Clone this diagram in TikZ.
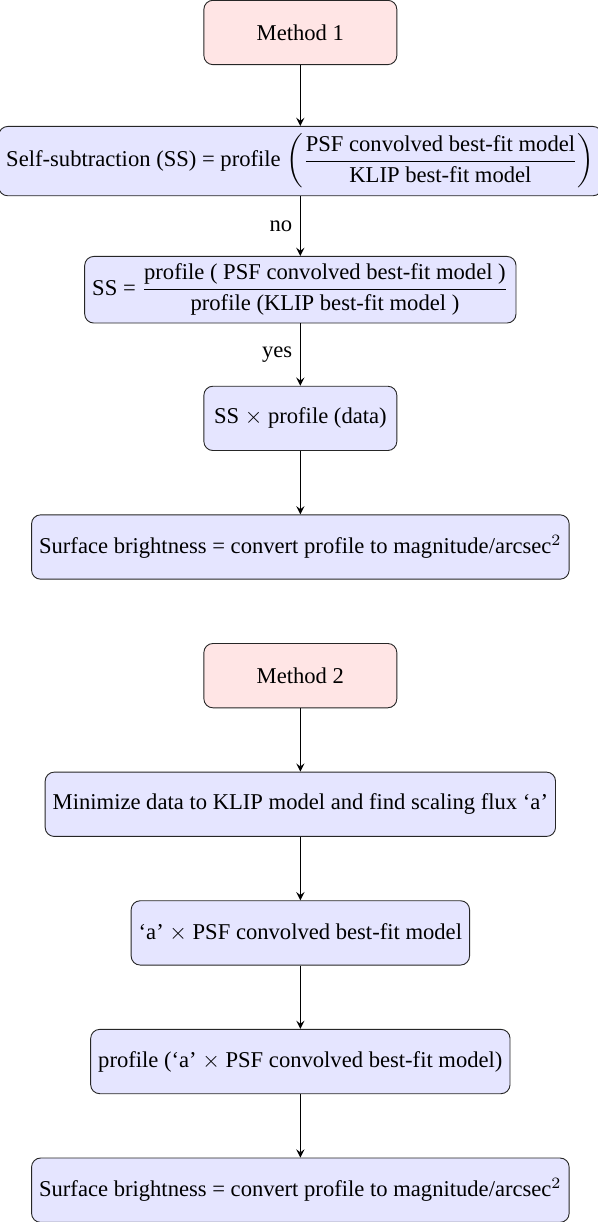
\documentclass[tikz,border=0pt]{standalone}
\usepackage{amsmath}
\usepackage{fontspec}
\setmainfont{Liberation Serif}
\usetikzlibrary{arrows}
\begin{document}
\begin{tikzpicture}[
  startbox/.style={draw=black!85, rounded corners, fill=red!10, minimum width=3cm, minimum height=1cm, align=center},
  procbox/.style={draw=black!85, rounded corners, fill=blue!10, minimum width=3cm, minimum height=1cm, align=center},
  flow/.style={-stealth, semithick},
  lbl/.style={left, midway}]
\useasboundingbox (-4.67,0.505) rectangle (4.615,-18.495);
\node[startbox] (m1) at (0,0) {Method 1};
\node[procbox] (ss) at (0,-2) {Self-subtraction (SS) = profile $\displaystyle\left(\frac{\text{PSF convolved best-fit model}}{\text{KLIP best-fit model}}\right)$};
\node[procbox] (ratio) at (0,-4) {SS = $\displaystyle\frac{\text{profile ( PSF convolved best-fit model )}}{\text{profile (KLIP best-fit model )}}$};
\node[procbox] (ssp) at (0,-6) {SS $\times$ profile (data)};
\node[procbox] (sb1) at (0,-8) {Surface brightness = convert profile to magnitude/arcsec$^2$};
\node[startbox] (m2) at (0,-10) {Method 2};
\node[procbox] (mini) at (0,-12) {Minimize data to KLIP model and find scaling flux `a'};
\node[procbox] (apsf) at (0,-14) {`a' $\times$ PSF convolved best-fit model};
\node[procbox] (prof) at (0,-16) {profile (`a' $\times$ PSF convolved best-fit model)};
\node[procbox] (sb2) at (0,-18) {Surface brightness = convert profile to magnitude/arcsec$^2$};
\draw[flow] (m1) -- (ss);
\draw[flow] (ss) -- node[lbl] {no} (ratio);
\draw[flow] (ratio) -- node[lbl] {yes} (ssp);
\draw[flow] (ssp) -- (sb1);
\draw[flow] (m2) -- (mini);
\draw[flow] (mini) -- (apsf);
\draw[flow] (apsf) -- (prof);
\draw[flow] (prof) -- (sb2);
\end{tikzpicture}
\end{document}
